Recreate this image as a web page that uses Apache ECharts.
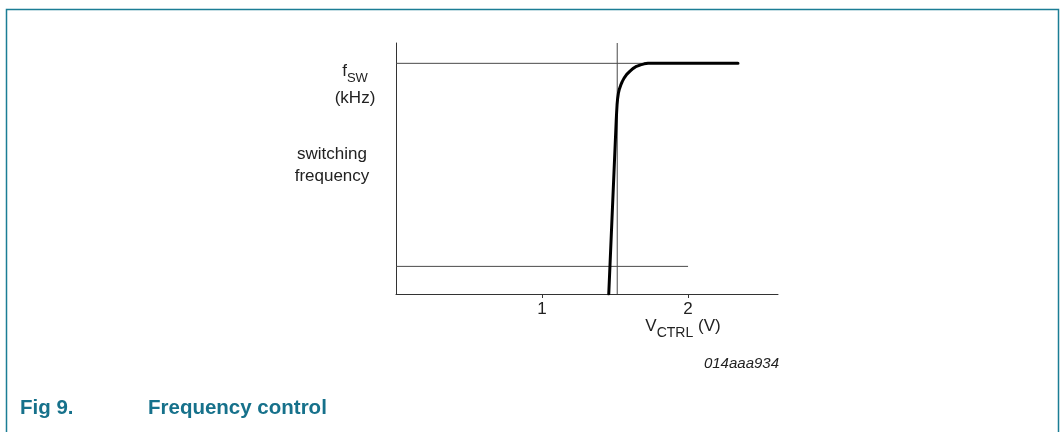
<!DOCTYPE html>
<html>
<head>
<meta charset="utf-8">
<script src="https://cdn.jsdelivr.net/npm/echarts@6/dist/echarts.min.js"></script>
<style>
html,body{margin:0;padding:0;background:#fff;}
#c{width:1061px;height:432px;}
</style>
</head>
<body>
<div id="c"></div>
<script>
// Data (x: V_CTRL in volts, y: relative switching frequency, arbitrary units 0..10)
var curveX = [1.457, 1.508, 1.511, 1.514, 1.518, 1.523, 1.530, 1.539, 1.550, 1.562, 1.580, 1.601, 1.622, 1.647, 1.675, 1.700, 1.726, 2.342];
var curveY = [0, 6.90, 7.25, 7.55, 7.80, 8.00, 8.17, 8.32, 8.47, 8.60, 8.75, 8.87, 8.98, 9.07, 9.13, 9.17, 9.19, 9.19];
var fMaxLineX = [0, 1.726];
var fMaxLineY = [9.19, 9.19];
var fMinLineX = [0, 2.0];
var fMinLineY = [1.10, 1.10];
var vRefX = [1.515, 1.515];
var vRefY = [0, 10];
var xTicks = [1, 2];

var FONT = 'Liberation Sans, Arial, sans-serif';
function pairs(xs, ys){ return xs.map(function(v,i){ return [v, ys[i]]; }); }

var chart = echarts.init(document.getElementById('c'));
var thin = {color:'#4a4a4a', width:1};
chart.setOption({
  animation:false,
  backgroundColor:'#fff',
  grid:{left:396, top:43, width:382, height:251},
  xAxis:{
    type:'value', min:0, max:2.616, interval:1,
    axisLine:{show:true, lineStyle:{color:'#333', width:1}},
    axisTick:{show:true, length:4, inside:false, lineStyle:{color:'#333'}},
    splitLine:{show:false},
    axisLabel:{
      show:true, fontSize:17, color:'#222', fontFamily:FONT, margin:7,
      showMinLabel:false, showMaxLabel:false,
      formatter:function(v){ return xTicks.indexOf(v) >= 0 ? String(v) : ''; }
    }
  },
  yAxis:{
    type:'value', min:0, max:10,
    axisLine:{show:true, lineStyle:{color:'#333', width:1}},
    axisTick:{show:false}, axisLabel:{show:false}, splitLine:{show:false}
  },
  series:[
    {type:'line', data:pairs(fMaxLineX, fMaxLineY), symbol:'none', lineStyle:thin, silent:true},
    {type:'line', data:pairs(fMinLineX, fMinLineY), symbol:'none', lineStyle:thin, silent:true},
    {type:'line', data:pairs(vRefX, vRefY), symbol:'none', lineStyle:thin, silent:true},
    {type:'line', data:pairs(curveX, curveY), symbol:'none', smooth:false,
     lineStyle:{color:'#000', width:3, cap:'round', join:'round'}, silent:true}
  ],
  graphic:[
    {type:'rect', shape:{x:6.5, y:9.5, width:1052, height:600},
     style:{fill:'none', stroke:'#1b7d95', lineWidth:1.5}, silent:true},
    {type:'text', x:355, y:78, style:{
      text:'{a|f}{s|SW}', align:'center', verticalAlign:'middle', fontFamily:FONT,
      rich:{a:{fontSize:17, fill:'#222', lineHeight:20, verticalAlign:'top', fontFamily:FONT},
            s:{fontSize:13, fill:'#222', lineHeight:30, fontFamily:FONT}}
    }},
    {type:'text', x:355, y:98, style:{text:'(kHz)', align:'center', verticalAlign:'middle', fontSize:17, fill:'#222', fontFamily:FONT}},
    {type:'text', x:332, y:154, style:{text:'switching', align:'center', verticalAlign:'middle', fontSize:17, fill:'#222', fontFamily:FONT}},
    {type:'text', x:332, y:176, style:{text:'frequency', align:'center', verticalAlign:'middle', fontSize:17, fill:'#222', fontFamily:FONT}},
    {type:'text', x:683, y:333, style:{
      text:'{a|V}{s|CTRL}{a| (V)}', align:'center', verticalAlign:'middle', fontFamily:FONT,
      rich:{a:{fontSize:17, fill:'#222', lineHeight:20, verticalAlign:'top', fontFamily:FONT},
            s:{fontSize:14, fill:'#222', lineHeight:30, fontFamily:FONT}}
    }},
    {type:'text', x:779, y:364, style:{text:'014aaa934', align:'right', verticalAlign:'middle', fontSize:15, fontStyle:'italic', fill:'#222', fontFamily:FONT}},
    {type:'text', x:20, y:408, style:{text:'Fig 9.', align:'left', verticalAlign:'middle', fontSize:20.5, fontWeight:'bold', fill:'#16718b', fontFamily:FONT}},
    {type:'text', x:148, y:408, style:{text:'Frequency control', align:'left', verticalAlign:'middle', fontSize:20.5, fontWeight:'bold', fill:'#16718b', fontFamily:FONT}}
  ]
});
</script>
</body>
</html>
